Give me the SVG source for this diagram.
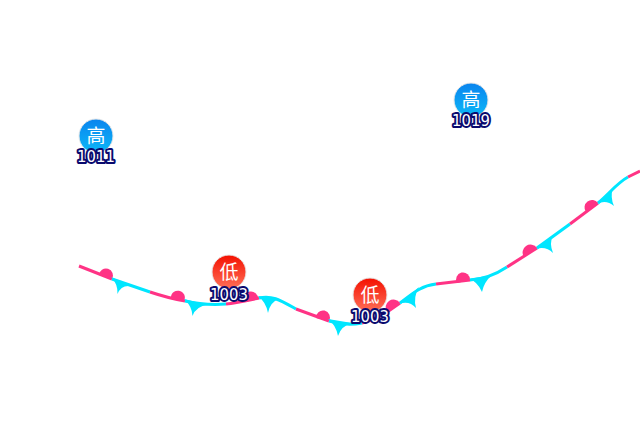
<svg xmlns="http://www.w3.org/2000/svg" width="640" height="440" viewBox="0 0 640 440">
<style>
.w{fill:none;stroke-width:3;stroke-linecap:butt}
.r{stroke:#ff3385}.c{stroke:#00e6ff}
.rf{fill:#ff3385}.cf{fill:#00e6ff}
.sym{font-family:"Noto Sans CJK SC","Noto Sans CJK JP",sans-serif;font-size:19px;fill:#fff;text-anchor:middle}
.num{font-family:"DejaVu Sans Condensed","DejaVu Sans",sans-serif;font-size:16.5px;fill:#fff;stroke:#0a0a6e;stroke-width:4;paint-order:stroke;stroke-linejoin:round;text-anchor:middle}
.ring{stroke:#e8e8e8;stroke-width:1}
</style>
<defs>
<linearGradient id="hi" x1="0" y1="0" x2="0" y2="1"><stop offset="0" stop-color="#0a84ee"/><stop offset="1" stop-color="#0cb8f8"/></linearGradient>
<linearGradient id="lo" x1="0" y1="0" x2="0" y2="1"><stop offset="0" stop-color="#f41000"/><stop offset="1" stop-color="#ff7058"/></linearGradient>
</defs>
<rect width="640" height="440" fill="#fff"/>
<g id="front">
<path class="w r" d="M79 266L112 279"/>
<path class="w c" d="M112 279L150 292"/>
<path class="w r" d="M150 292C162 296 173 299 185 301"/>
<path class="w c" d="M185 301C198 304 212 305 226 304"/>
<path class="w r" d="M226 304C238 303 249 300 259 298"/>
<path class="w c" d="M259 298C272 295 280 300 296 309"/>
<path class="w r" d="M296 309L329 321"/>
<path class="w c" d="M329 321C342 325 352 325 362 323"/>
<path class="w r" d="M362 323C375 320 388 312 400 303"/>
<path class="w c" d="M400 303C412 294 420 286 436 284"/>
<path class="w r" d="M436 284L470 280"/>
<path class="w c" d="M470 280C485 279 495 275 507 267"/>
<path class="w r" d="M507 267L537 248"/>
<path class="w c" d="M537 248L570 224"/>
<path class="w r" d="M570 224L598 203"/>
<path class="w c" d="M598 203C610 193 617 183 628 177"/>
<path class="w r" d="M628 177L640 171"/>
<path class="rf" d="M99 275A7 7 0 1 1 112 279Z"/>
<path class="rf" d="M171 299A7 7 0 1 1 184 301Z"/>
<path class="rf" d="M245 302A7 7 0 1 1 258 299Z"/>
<path class="rf" d="M316 318A7 7 0 1 1 329 321Z"/>
<path class="rf" d="M387 312A7 7 0 1 1 400 303Z"/>
<path class="rf" d="M457 283A7 7 0 1 1 470 280Z"/>
<path class="rf" d="M524 257A7 7 0 1 1 537 248Z"/>
<path class="rf" d="M586 212A7 7 0 1 1 598 203Z"/>
<path class="cf" d="M111 277Q118 284 117.5 294Q121 285 130 286Z"/>
<path class="cf" d="M184 299Q192 306 192.5 316Q196 306 208 305Z"/>
<path class="cf" d="M258 296Q266 302 268 313Q270 302 279 299Z"/>
<path class="cf" d="M328 319Q336 325 338 336Q341 326 352 323Z"/>
<path class="cf" d="M399 304Q409 300 416 308Q413 297 419 287Z"/>
<path class="cf" d="M469 279Q477 281 482 292Q484 282 492 275Z"/>
<path class="cf" d="M536 249Q546 246 553 253Q549 243 553 235Z"/>
<path class="cf" d="M597 204Q606 199 614 206Q610 197 613 188Z"/>
</g>
<g id="high-1011"><circle class="ring" cx="96" cy="136" r="17" fill="url(#hi)"/><text class="sym" x="96" y="143">高</text><text class="num" x="96" y="162">1011</text></g>
<g id="high-1019"><circle class="ring" cx="471" cy="100" r="17" fill="url(#hi)"/><text class="sym" x="471" y="107">高</text><text class="num" x="471" y="126">1019</text></g>
<g id="low-1003a"><circle class="ring" cx="229" cy="272" r="17" fill="url(#lo)"/><text class="sym" x="229" y="279">低</text><text class="num" x="229" y="300">1003</text></g>
<g id="low-1003b"><circle class="ring" cx="370" cy="295" r="17" fill="url(#lo)"/><text class="sym" x="370" y="302">低</text><text class="num" x="370" y="322">1003</text></g>
</svg>
